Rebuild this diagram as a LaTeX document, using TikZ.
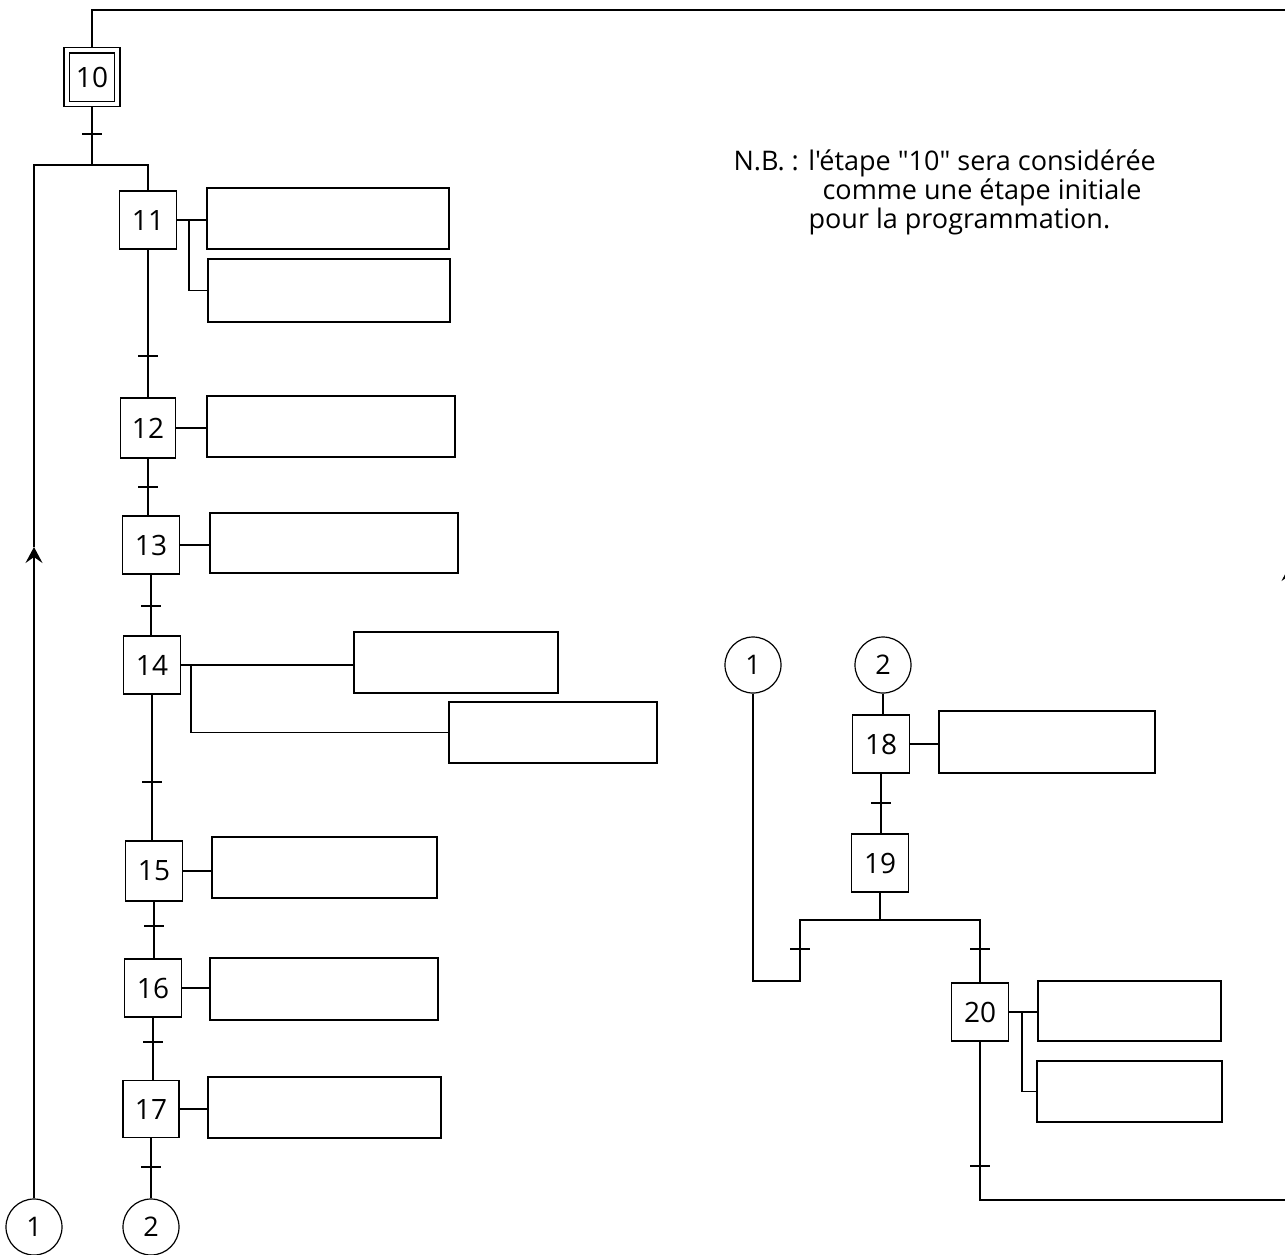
\documentclass[tikz,border=0pt]{standalone}
\usepackage{fontspec}
\newfontfamily\labfont{Open Sans}
\usetikzlibrary{arrows.meta}
\begin{document}
\begin{tikzpicture}[x=1pt,y=-1pt,line width=1.2pt,
  stepbox/.style={draw,minimum width=57pt,minimum height=58pt,inner sep=0pt,font=\labfont\fontsize{28}{28}\selectfont},
  actbox/.style={draw,inner sep=0pt},
  plug/.style={draw,circle,minimum size=56pt,inner sep=0pt,font=\labfont\fontsize{27}{27}\selectfont},
  note/.style={anchor=base west,inner sep=0pt,font=\labfont\fontsize{27}{29}\selectfont},
  trans/.style={line width=1.1pt},
  uparrow/.style={-{Stealth[length=16pt,width=17pt,inset=6pt]}}
]
\useasboundingbox (0,0) rectangle (1285,1254);
% steps
\node[stepbox,minimum width=56pt,minimum height=59pt] (s10) at (92,77) {};
\draw ([shift={(6,6)}]s10.north west) rectangle ([shift={(-6,-6)}]s10.south east);
\node[font=\labfont\fontsize{28}{28}\selectfont] (l10) at (s10) {10};
\node[stepbox] (s11) at (148,220) {11};
\node[stepbox,minimum width=55pt,minimum height=60pt] (s12) at (148,428) {12};
\node[stepbox] (s13) at (151,545) {13};
\node[stepbox] (s14) at (152,665) {14};
\node[stepbox,minimum height=60pt] (s15) at (154,871) {15};
\node[stepbox] (s16) at (153,988) {16};
\node[stepbox,minimum width=56pt,minimum height=57pt] (s17) at (151,1109) {17};
\node[stepbox] (s18) at (881,744) {18};
\node[stepbox] (s19) at (880,863) {19};
\node[stepbox] (s20) at (980,1012) {20};
% action boxes
\node[actbox,minimum width=242pt,minimum height=61pt] (a11a) at (328,218.5) {};
\node[actbox,minimum width=242pt,minimum height=63pt] (a11b) at (329,290.5) {};
\node[actbox,minimum width=248pt,minimum height=61pt] (a12) at (331,426.5) {};
\node[actbox,minimum width=248pt,minimum height=60pt] (a13) at (334,543) {};
\node[actbox,minimum width=204pt,minimum height=61pt] (a14a) at (456,662.5) {};
\node[actbox,minimum width=208pt,minimum height=61pt] (a14b) at (553,732.5) {};
\node[actbox,minimum width=225pt,minimum height=61pt] (a15) at (324.5,867.5) {};
\node[actbox,minimum width=228pt,minimum height=62pt] (a16) at (324,989) {};
\node[actbox,minimum width=233pt,minimum height=61pt] (a17) at (324.5,1107.5) {};
\node[actbox,minimum width=216pt,minimum height=62pt] (a18) at (1047,742) {};
\node[actbox,minimum width=183pt,minimum height=60pt] (a20a) at (1129.5,1011) {};
\node[actbox,minimum width=185pt,minimum height=61pt] (a20b) at (1129.5,1091.5) {};
% connector circles
\node[plug] (c1L) at (34,1227) {1};
\node[plug] (c2L) at (151,1227) {2};
\node[plug] (c1R) at (753,665) {1};
\node[plug] (c2R) at (883,665) {2};
% note
\node[note] (nb) at (733,170) {N.B. : l'étape "10" sera considérée};
\node[note] (nb2) at (822,199) {comme une étape initiale};
\node[note] (nb3) at (808,228) {pour la programmation.};
% coordinates
\coordinate (j10) at (92,165);
\coordinate (arrL) at (34,547);
\coordinate (b11) at (189,0);
\coordinate (b14) at (191,0);
\coordinate (b20) at (1022,0);
\coordinate (jL) at (800,920);
\coordinate (k1) at (800,981);
\coordinate (jR) at (980,920);
\coordinate (j19) at (880,920);
\coordinate (bot) at (0,1200);
\coordinate (r2) at (1290,1200);
\coordinate (arrR) at (1290,565);
\coordinate (r3) at (1290,10);
% sequence links
\draw (s10.south) -- (j10);
\draw[uparrow] (c1L.north) -- (arrL);
\draw (arrL) |- (j10) -| (s11.north);
\draw (s11.south) -- (s11.south |- s12.north);
\draw (s12.south) -- (s12.south |- s13.north);
\draw (s13.south) -- (s13.south |- s14.north);
\draw (s14.south) -- (s14.south |- s15.north);
\draw (s15.south) -- (s15.south |- s16.north);
\draw (s16.south) -- (s16.south |- s17.north);
\draw (s17.south) -- (s17.south |- c2L.north);
\draw (c2R.south) -- (c2R.south |- s18.north);
\draw (s18.south) -- (s18.south |- s19.north);
\draw (s19.south) -- (j19);
\draw (c1R.south) |- (k1) -- (jL) -- (jR) -- (s20.north);
\draw (s20.south) -- (s20.south |- bot) -- (r2);
\draw[uparrow] (r2) -- (arrR);
\draw (arrR) -- (r3) -- (r3 -| s10.north) -- (s10.north);
% action links
\draw (s11.east) -- (s11.east -| a11a.west);
\draw (s11.east -| b11) |- (a11b.west);
\draw (s12.east) -- (s12.east -| a12.west);
\draw (s13.east) -- (s13.east -| a13.west);
\draw (s14.east) -- (s14.east -| a14a.west);
\draw (s14.east -| b14) |- (a14b.west);
\draw (s15.east) -- (s15.east -| a15.west);
\draw (s16.east) -- (s16.east -| a16.west);
\draw (s17.east) -- (s17.east -| a17.west);
\draw (s18.east) -- (s18.east -| a18.west);
\draw (s20.east) -- (s20.east -| a20a.west);
\draw (s20.east -| b20) |- (a20b.west);
% transitions
\foreach \x/\y in {92/134,148/356,148/487,151/606,152/782,154/926,153/1042,151/1167,881/803,800/949,980/949,980/1166}
  \draw[trans] (\x-10,\y) -- (\x+10,\y);
\end{tikzpicture}
\end{document}
